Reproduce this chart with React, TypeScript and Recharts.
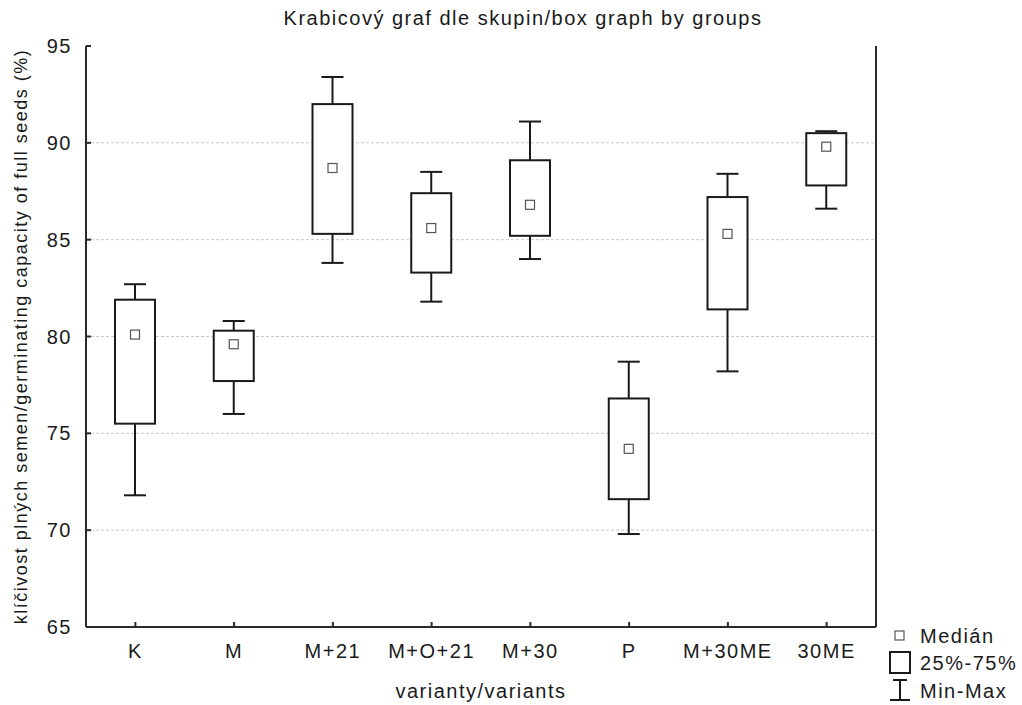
import { ComposedChart, Bar, XAxis, YAxis, CartesianGrid } from "recharts";

const groups = ["K", "M", "M+21", "M+O+21", "M+30", "P", "M+30ME", "30ME"];
const minVals = [71.8, 76.0, 83.8, 81.8, 84.0, 69.8, 78.2, 86.6];
const q1Vals = [75.5, 77.7, 85.3, 83.3, 85.2, 71.6, 81.4, 87.8];
const medianVals = [80.1, 79.6, 88.7, 85.6, 86.8, 74.2, 85.3, 89.8];
const q3Vals = [81.9, 80.3, 92.0, 87.4, 89.1, 76.8, 87.2, 90.5];
const maxVals = [82.7, 80.8, 93.4, 88.5, 91.1, 78.7, 88.4, 90.6];
const yTicks = [65, 70, 75, 80, 85, 90, 95];
const gridValues = [70, 75, 80, 85, 90];

const data = groups.map((name, i) => ({
  name,
  range: [minVals[i], maxVals[i]],
  min: minVals[i],
  q1: q1Vals[i],
  median: medianVals[i],
  q3: q3Vals[i],
  max: maxVals[i],
}));

const FONT = '"Liberation Sans", Arial, sans-serif';
const INK = "#1a1a1a";
const AXIS = "#2a2a2a";
const TICK_IN = 5;
const LABEL_GAP = 14;

// box drawn inside the [min, max] range bar, other stats interpolated on the bar's pixels
const BoxShape = (props: any) => {
  const { x, y, width, height, payload } = props;
  const top = Math.min(y, y + height);
  const bottom = Math.max(y, y + height);
  const { min, max, q1, q3, median } = payload;
  const py = (v: number) => top + ((max - v) / (max - min)) * (bottom - top);
  const cx = x + width / 2;
  const cap = 11;
  const m = 4.5;
  return (
    <g stroke={INK} strokeWidth={2} fill="none">
      <line x1={cx} x2={cx} y1={py(max)} y2={py(q3)} />
      <line x1={cx} x2={cx} y1={py(q1)} y2={py(min)} />
      <line x1={cx - cap} x2={cx + cap} y1={py(max)} y2={py(max)} />
      <line x1={cx - cap} x2={cx + cap} y1={py(min)} y2={py(min)} />
      <rect x={x} y={py(q3)} width={width} height={py(q1) - py(q3)} fill="#fff" />
      <rect x={cx - m} y={py(median) - m} width={m * 2} height={m * 2} stroke="#555" strokeWidth={1.2} fill="#fff" />
    </g>
  );
};

const textStyle = { fill: INK, fontSize: 20, fontFamily: FONT, letterSpacing: 1.5 };

// ticks point into the plot; labels stay outside
const BottomTick = (props: any) => {
  const { x, y, payload } = props;
  const axisY = y - LABEL_GAP;
  return (
    <g>
      <line x1={x} x2={x} y1={axisY} y2={axisY - TICK_IN} stroke={AXIS} strokeWidth={2} />
      <text x={x} y={y + 17} textAnchor="middle" style={textStyle}>{payload.value}</text>
    </g>
  );
};

const TopTick = (props: any) => {
  const { x, y } = props;
  return <line x1={x} x2={x} y1={y} y2={y + TICK_IN} stroke={AXIS} strokeWidth={2} />;
};

const LeftTick = (props: any) => {
  const { x, y, payload } = props;
  const axisX = x + LABEL_GAP;
  return (
    <g>
      <line x1={axisX} x2={axisX + TICK_IN} y1={y} y2={y} stroke={AXIS} strokeWidth={2} />
      <text x={x} y={y + 7} textAnchor="end" style={textStyle}>{payload.value}</text>
    </g>
  );
};

const RightTick = (props: any) => {
  const { x, y } = props;
  return <line x1={x} x2={x - TICK_IN} y1={y} y2={y} stroke={AXIS} strokeWidth={2} />;
};

const Legend = () => (
  <div style={{ position: "absolute", left: 880, top: 618 }}>
    <svg width={142} height={87} style={{ fontFamily: FONT }}>
      <rect x={15} y={13} width={9} height={9} stroke="#555" strokeWidth={1.2} fill="#fff" />
      <text x={40} y={25} fontSize={20} letterSpacing={1.5} fill={INK}>Medián</text>
      <rect x={10} y={34} width={20} height={21} stroke={INK} strokeWidth={2} fill="#fff" />
      <text x={40} y={52} fontSize={20} letterSpacing={1.5} fill={INK}>25%-75%</text>
      <g stroke={INK} strokeWidth={2}>
        <line x1={13} x2={27} y1={62} y2={62} />
        <line x1={20} x2={20} y1={62} y2={82} />
        <line x1={10} x2={30} y1={82} y2={82} />
      </g>
      <text x={40} y={80} fontSize={20} letterSpacing={1.5} fill={INK}>Min-Max</text>
    </svg>
  </div>
);

export default function App() {
  const axisLine = { stroke: AXIS, strokeWidth: 2 };
  return (
    <div style={{ position: "absolute", left: 0, top: 0, width: 1022, height: 705, background: "#fff" }}>
      <div
        style={{
          position: "absolute",
          top: 7,
          left: 12,
          width: 1022,
          textAlign: "center",
          fontFamily: FONT,
          fontSize: 20,
          letterSpacing: 1.5,
          color: INK,
          lineHeight: "22px",
        }}
      >
        Krabicový graf dle skupin/box graph by groups
      </div>
      <ComposedChart
        width={1022}
        height={705}
        data={data}
        margin={{ top: 46, right: 145, bottom: 48, left: 46 }}
      >
        <CartesianGrid vertical={false} horizontalValues={gridValues} stroke="#c8c8c8" strokeDasharray="3 2" />
        <XAxis
          dataKey="name"
          axisLine={axisLine}
          tickLine={false}
          tickSize={0}
          tickMargin={LABEL_GAP}
          height={30}
          tick={BottomTick}
          interval={0}
          label={{
            value: "varianty/variants",
            position: "bottom",
            offset: 27,
            style: textStyle,
          }}
        />
        <XAxis
          xAxisId="top"
          dataKey="name"
          orientation="top"
          axisLine={axisLine}
          tickLine={false}
          tickSize={0}
          tickMargin={0}
          height={0}
          interval={0}
          tick={TopTick}
        />
        <YAxis
          domain={[65, 95]}
          ticks={yTicks}
          axisLine={axisLine}
          tickLine={false}
          tickSize={0}
          tickMargin={LABEL_GAP}
          width={40}
          tick={LeftTick}
          label={{
            value: "klíčivost plných semen/germinating capacity of full seeds (%)",
            angle: -90,
            position: "insideLeft",
            offset: -25,
            style: { textAnchor: "middle", fill: INK, fontSize: 18, fontFamily: FONT, letterSpacing: 1.5 },
          }}
        />
        <YAxis
          yAxisId="right"
          orientation="right"
          domain={[65, 95]}
          ticks={yTicks}
          axisLine={axisLine}
          tickLine={false}
          tickSize={0}
          tickMargin={0}
          width={1}
          tick={RightTick}
        />
        <Bar dataKey="range" barSize={40} shape={BoxShape} isAnimationActive={false} />
      </ComposedChart>
      <Legend />
    </div>
  );
}
